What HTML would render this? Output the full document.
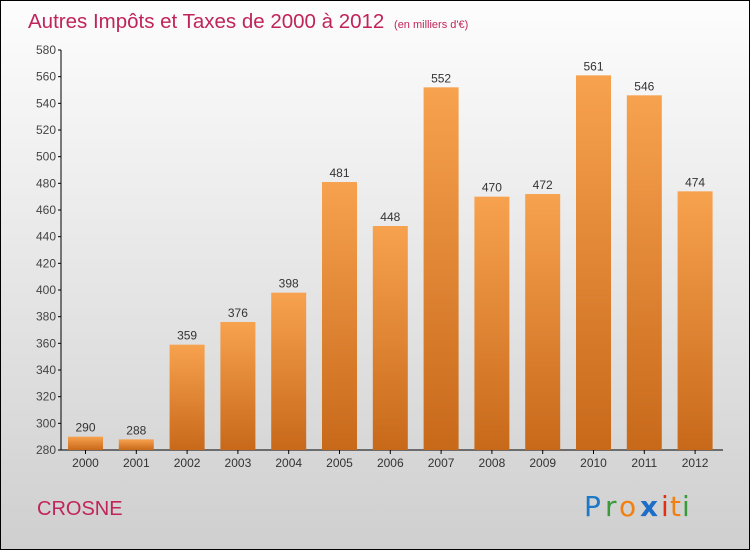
<!DOCTYPE html>
<html><head><meta charset="utf-8"><style>
body{margin:0;}
#c{position:relative;width:748px;height:548px;border:1px solid #000;background:linear-gradient(#fdfdfd,#cfcfcf);font-family:"Liberation Sans",sans-serif;overflow:hidden}
</style></head><body>
<div id="c">
<svg width="748" height="548">
<defs><linearGradient id="bg" x1="0" y1="0" x2="0" y2="1"><stop offset="0" stop-color="#f7a24f"/><stop offset="1" stop-color="#c8691a"/></linearGradient></defs>
<text x="27" y="27" font-size="20.5" fill="#c0245a">Autres Impôts et Taxes de 2000 à 2012 <tspan font-size="11" dx="4">(en milliers d'€)</tspan></text>
<g id="axes"></g><g id="bars"></g>
<text x="36" y="514" font-size="20" fill="#c0245a">CROSNE</text>
<g font-size="28" font-family="'DejaVu Sans',sans-serif">
<text x="583" y="515" fill="#1e78c8">P</text><text x="604" y="515" fill="#3a9a3a">r</text><text x="618" y="515" fill="#f08010">o</text><text x="639" y="515" fill="#1e6ec8" font-weight="bold">x</text><text x="660" y="515" fill="#e03010">i</text><text x="669" y="515" fill="#f08010">t</text><text x="681" y="515" fill="#3a9a3a">i</text></g>
</svg></div>
<script>
const categories=["2000","2001","2002","2003","2004","2005","2006","2007","2008","2009","2010","2011","2012"];
const values=[290,288,359,376,398,481,448,552,470,472,561,546,474];
const yTicks=[280,300,320,340,360,380,400,420,440,460,480,500,520,540,560,580];
const NS="http://www.w3.org/2000/svg";
const y=v=>449-(v-280)*400/300;
const x=i=>84.5+i*50.8;
function mk(t,a,p){const e=document.createElementNS(NS,t);for(const k in a)e.setAttribute(k,a[k]);p.appendChild(e);return e;}
const ax=document.getElementById('axes'),bg=document.getElementById('bars');
const yl=mk('line',{x1:60,y1:49,x2:60,y2:449,stroke:'#000'},ax);


const xl=mk('line',{x1:60,y1:449,x2:722,y2:449,stroke:'#000'},ax);


yTicks.forEach(v=>{mk('line',{x1:57,x2:60,y1:y(v),y2:y(v),stroke:'#000'},ax);
const t=mk('text',{x:55,y:y(v)+4,'text-anchor':'end','font-size':12,fill:'#444'},ax);t.textContent=v;

});
categories.forEach((c,i)=>{
const r=mk('rect',{x:x(i)-17.5,y:y(values[i]),width:35,height:449-y(values[i]),fill:'url(#bg)'},bg);


const l=mk('text',{x:x(i),y:y(values[i])-5,'text-anchor':'middle','font-size':12,fill:'#333'},bg);l.textContent=values[i];


mk('line',{x1:x(i),x2:x(i),y1:449,y2:453,stroke:'#000'},ax);
const t=mk('text',{x:x(i),y:466,'text-anchor':'middle','font-size':12,fill:'#333'},ax);t.textContent=c;

});
</script></body></html>
